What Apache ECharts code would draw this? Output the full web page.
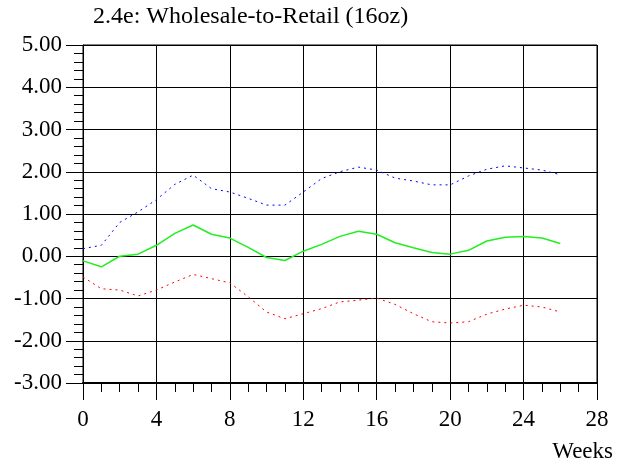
<!DOCTYPE html>
<html>
<head>
<meta charset="utf-8">
<script src="https://cdn.jsdelivr.net/npm/echarts@6/dist/echarts.min.js"></script>
<style>
  html, body { margin: 0; padding: 0; background: #fff; }
  #chart { width: 626px; height: 463px; }
</style>
</head>
<body>
<div id="chart"></div>
<script>
  // weeks 0..26
  var weeks = [0,1,2,3,4,5,6,7,8,9,10,11,12,13,14,15,16,17,18,19,20,21,22,23,24,25,26];
  var upper = [0.18,0.26,0.80,1.05,1.34,1.70,1.92,1.60,1.52,1.37,1.21,1.21,1.52,1.84,2.00,2.11,2.04,1.85,1.78,1.69,1.69,1.90,2.06,2.14,2.09,2.04,1.93];
  var mean  = [-0.11,-0.25,0.00,0.05,0.26,0.54,0.74,0.52,0.43,0.21,-0.03,-0.10,0.12,0.28,0.47,0.59,0.52,0.32,0.20,0.09,0.05,0.14,0.36,0.45,0.47,0.43,0.30];
  var lower = [-0.49,-0.77,-0.80,-0.94,-0.80,-0.61,-0.43,-0.53,-0.63,-0.96,-1.32,-1.48,-1.36,-1.24,-1.08,-1.04,-0.99,-1.14,-1.36,-1.55,-1.58,-1.55,-1.37,-1.25,-1.16,-1.20,-1.32];

  var serif = '"Liberation Serif", "DejaVu Serif", serif';

  function pairs(vals) {
    return vals.map(function (v, i) { return [weeks[i], v]; });
  }

  var chart = echarts.init(document.getElementById('chart'));
  chart.setOption({
    animation: false,
    backgroundColor: '#fff',
    title: [{
      text: '2.4e: Wholesale-to-Retail (16oz)',
      left: 88, top: 0,
      textStyle: { fontFamily: serif, fontSize: 24, fontWeight: 'normal', color: '#000' }
    }, {
      text: 'Weeks',
      right: 8, top: 435,
      textStyle: { fontFamily: serif, fontSize: 23, fontWeight: 'normal', color: '#000' }
    }],
    grid: { left: 83, top: 45, width: 514, height: 338, show: true, borderColor: '#000', borderWidth: 1 },
    xAxis: {
      type: 'value', min: 0, max: 28, interval: 4,
      axisLine: { onZero: false, lineStyle: { color: '#000', width: 2 } },
      axisTick: { show: true, length: 17, lineStyle: { color: '#000' } },
      minorTick: { show: true, splitNumber: 4, length: 9, lineStyle: { color: '#000' } },
      splitLine: { show: true, lineStyle: { color: '#000', width: 1 } },
      axisLabel: { margin: 25, fontFamily: serif, fontSize: 23, color: '#000' }
    },
    yAxis: {
      type: 'value', min: -3, max: 5, interval: 1,
      axisLine: { show: true, onZero: false, lineStyle: { color: '#000', width: 1 } },
      axisTick: { show: true, length: 17, lineStyle: { color: '#000' } },
      minorTick: { show: true, splitNumber: 5, length: 9, lineStyle: { color: '#000' } },
      splitLine: { show: true, lineStyle: { color: '#000', width: 1 } },
      axisLabel: {
        margin: 21, fontFamily: serif, fontSize: 23, color: '#000',
        formatter: function (v) { return v.toFixed(2); }
      }
    },
    series: [{
      name: 'upper', type: 'line', data: pairs(upper), showSymbol: false,
      lineStyle: { color: '#0000ff', width: 1, type: [2, 4] }
    }, {
      name: 'mean', type: 'line', data: pairs(mean), showSymbol: false,
      lineStyle: { color: '#22ee22', width: 1.5, type: 'solid' }
    }, {
      name: 'lower', type: 'line', data: pairs(lower), showSymbol: false,
      lineStyle: { color: '#ff0000', width: 1, type: [2, 4] }
    }]
  });
</script>
</body>
</html>
